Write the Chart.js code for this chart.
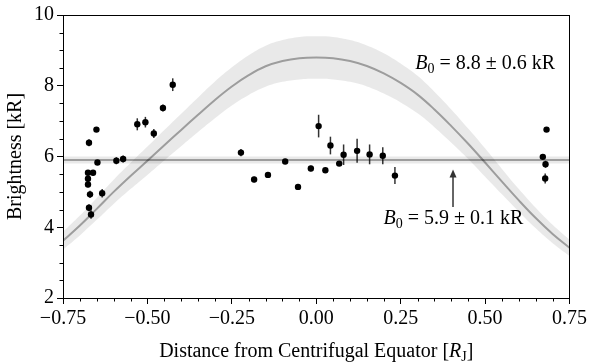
<!DOCTYPE html>
<html>
<head>
<meta charset="utf-8">
<script src="https://cdn.jsdelivr.net/npm/chart.js@4"></script>
<style>
  html, body { margin: 0; padding: 0; background: #fff; }
  #wrap { width: 590px; height: 362px; }
</style>
</head>
<body>
<div id="wrap"><canvas id="c" width="590" height="362"></canvas></div>
<script>
// ===== Datos =====
// Observaciones (distancia, brillo, error)
const obsX = [-0.676, -0.661, -0.676, -0.676, -0.670, -0.673, -0.667, -0.673, -0.651, -0.648,
              -0.634, -0.592, -0.572, -0.530, -0.506, -0.481, -0.454, -0.425, -0.223, -0.184,
              -0.143, -0.092, -0.054, -0.016, 0.007, 0.027, 0.042, 0.068, 0.081, 0.121,
              0.158, 0.197, 0.233, 0.671, 0.679, 0.678, 0.682];
const obsY = [5.54, 5.54, 5.37, 5.21, 4.93, 4.55, 4.36, 6.39, 6.76, 5.83,
              4.96, 5.88, 5.93, 6.91, 6.97, 6.65, 7.37, 8.03, 6.11, 5.35,
              5.48, 5.86, 5.14, 5.66, 6.86, 5.61, 6.31, 5.80, 6.05, 6.16,
              6.06, 6.02, 5.46, 5.99, 5.78, 5.38, 6.76];
const obsErr = [0.08, 0.08, 0.08, 0.08, 0.10, 0.10, 0.12, 0.10, 0.06, 0.06,
                0.12, 0.10, 0.10, 0.17, 0.15, 0.13, 0.10, 0.18, 0.10, 0.08,
                0.08, 0.06, 0.06, 0.08, 0.32, 0.06, 0.25, 0.07, 0.29, 0.34,
                0.28, 0.24, 0.24, 0.06, 0.10, 0.14, 0.06];

// Modelo B0 = 8.8 ± 0.6 kR (curva y banda)
const curveX = [-0.75, -0.70, -0.65, -0.60, -0.55, -0.50, -0.45, -0.40, -0.35, -0.30, -0.25,
                -0.20, -0.15, -0.10, -0.05, 0.00, 0.05, 0.10, 0.15, 0.20, 0.25,
                0.30, 0.35, 0.40, 0.45, 0.50, 0.55, 0.60, 0.65, 0.70, 0.75];
const curveMid = [3.62, 4.05, 4.52, 5.00, 5.45, 5.88, 6.32, 6.75, 7.18, 7.60, 7.98,
                  8.30, 8.55, 8.70, 8.78, 8.80, 8.78, 8.70, 8.56, 8.35, 8.08,
                  7.75, 7.33, 6.86, 6.36, 5.83, 5.29, 4.76, 4.26, 3.81, 3.42];
const curveHi = [3.87, 4.33, 4.83, 5.34, 5.82, 6.28, 6.75, 7.21, 7.67, 8.12, 8.52,
                 8.86, 9.13, 9.29, 9.38, 9.40, 9.38, 9.29, 9.14, 8.92, 8.63,
                 8.28, 7.83, 7.33, 6.79, 6.23, 5.65, 5.08, 4.55, 4.07, 3.65];
const curveLo = [3.37, 3.77, 4.21, 4.66, 5.08, 5.48, 5.89, 6.29, 6.69, 7.08, 7.44,
                 7.74, 7.97, 8.11, 8.18, 8.20, 8.18, 8.11, 7.98, 7.78, 7.53,
                 7.22, 6.83, 6.39, 5.93, 5.43, 4.93, 4.44, 3.97, 3.55, 3.19];

// Modelo constante B0 = 5.9 ± 0.1 kR
const flatX = [-0.75, 0.75];
const flatMid = [5.9, 5.9];
const flatHi = [6.0, 6.0];
const flatLo = [5.8, 5.8];

// Ejes
const xTicks = [-0.75, -0.50, -0.25, 0.00, 0.25, 0.50, 0.75];
const yTicks = [2, 4, 6, 8, 10];

// Anotaciones (posición en datos)
const label1 = { x: 0.293, y: 8.48, value: '8.8', err: '0.6' };
const label2 = { x: 0.199, y: 4.08, value: '5.9', err: '0.1' };
const arrow = { x: 0.405, from: 4.57, to: 5.63 };

const FONT = '"Liberation Serif", "Times New Roman", serif';
const BAND = 'rgba(0,0,0,0.085)';
const LINE = 'rgba(0,0,0,0.33)';

const pts = (xs, ys) => xs.map((x, i) => ({ x, y: ys[i] }));

// ===== Plugins =====
const errorBars = {
  id: 'errorBars',
  beforeDatasetDraw(chart, args) {
    if (args.index !== chart.data.datasets.length - 1) return;
    const { ctx, scales: { x, y } } = chart;
    ctx.save();
    ctx.strokeStyle = '#333';
    ctx.lineWidth = 1.5;
    obsX.forEach((v, i) => {
      const px = x.getPixelForValue(v);
      ctx.beginPath();
      ctx.moveTo(px, y.getPixelForValue(obsY[i] - obsErr[i]));
      ctx.lineTo(px, y.getPixelForValue(obsY[i] + obsErr[i]));
      ctx.stroke();
    });
    ctx.restore();
  }
};

// texto con partes en cursiva / subíndice
function drawRich(ctx, px, py, parts, align) {
  ctx.textBaseline = 'alphabetic';
  ctx.textAlign = 'left';
  ctx.fillStyle = '#000';
  const fontOf = (p) => (p.it ? 'italic ' : '') + (p.sub ? 14 : 20) + 'px ' + FONT;
  let w = 0;
  parts.forEach(p => { ctx.font = fontOf(p); w += ctx.measureText(p.t).width; });
  let cx = align === 'center' ? px - w / 2 : px;
  parts.forEach(p => {
    ctx.font = fontOf(p);
    ctx.fillText(p.t, cx, py + (p.sub ? 4 : 0));
    cx += ctx.measureText(p.t).width;
  });
}

const b0Parts = (value, err) => [
  { t: 'B', it: true }, { t: '0', sub: true }, { t: ' = ' + value + ' \u00b1 ' + err + ' kR' }
];

const decorations = {
  id: 'decorations',
  afterDraw(chart) {
    const { ctx, chartArea: a, scales: { x, y } } = chart;
    ctx.save();
    // caja del gráfico
    ctx.strokeStyle = '#000';
    ctx.lineWidth = 1;
    ctx.strokeRect(Math.round(a.left) + 0.5, Math.round(a.top) + 0.5,
                   Math.round(a.right - a.left) - 1, Math.round(a.bottom - a.top));
    // ticks menores
    ctx.beginPath();
    for (let k = -15; k <= 15; k++) {
      if (k % 5 === 0) continue;
      const px = Math.round(x.getPixelForValue(k * 0.05)) + 0.5;
      ctx.moveTo(px, a.bottom);
      ctx.lineTo(px, a.bottom + 3.5);
    }
    for (let k = 4; k <= 20; k++) {
      if (k % 4 === 0) continue;
      const py = Math.round(y.getPixelForValue(k * 0.5)) + 0.5;
      ctx.moveTo(a.left, py);
      ctx.lineTo(a.left - 3.5, py);
    }
    ctx.stroke();

    // flecha
    const ax = x.getPixelForValue(arrow.x);
    const ay0 = y.getPixelForValue(arrow.from);
    const ay1 = y.getPixelForValue(arrow.to);
    ctx.strokeStyle = '#333';
    ctx.fillStyle = '#333';
    ctx.lineWidth = 1.5;
    ctx.beginPath();
    ctx.moveTo(ax, ay0);
    ctx.lineTo(ax, ay1 + 6);
    ctx.stroke();
    ctx.beginPath();
    ctx.moveTo(ax, ay1);
    ctx.lineTo(ax - 3.5, ay1 + 8);
    ctx.lineTo(ax + 3.5, ay1 + 8);
    ctx.closePath();
    ctx.fill();

    // textos
    drawRich(ctx, x.getPixelForValue(label1.x), y.getPixelForValue(label1.y), b0Parts(label1.value, label1.err));
    drawRich(ctx, x.getPixelForValue(label2.x), y.getPixelForValue(label2.y), b0Parts(label2.value, label2.err));

    // título del eje x
    drawRich(ctx, (a.left + a.right) / 2, 357, [
      { t: 'Distance from Centrifugal Equator [' }, { t: 'R', it: true }, { t: 'J', sub: true }, { t: ']' }
    ], 'center');
    ctx.restore();
  }
};

// ===== Chart =====
Chart.defaults.font.family = FONT;
Chart.defaults.font.size = 20;
Chart.defaults.color = '#000';

const lineDs = (data, extra) => Object.assign({
  data, showLine: true, pointRadius: 0, borderWidth: 0, fill: false, tension: 0.4
}, extra);

new Chart(document.getElementById('c').getContext('2d'), {
  type: 'scatter',
  data: {
    datasets: [
      lineDs(pts(curveX, curveHi), { backgroundColor: BAND, fill: '+1' }),
      lineDs(pts(curveX, curveLo), {}),
      lineDs(pts(flatX, flatHi), { backgroundColor: BAND, fill: '+1' }),
      lineDs(pts(flatX, flatLo), {}),
      lineDs(pts(curveX, curveMid), { borderColor: LINE, borderWidth: 2 }),
      lineDs(pts(flatX, flatMid), { borderColor: LINE, borderWidth: 2 }),
      {
        data: pts(obsX, obsY),
        backgroundColor: '#000', borderColor: '#000',
        pointRadius: 3.2, borderWidth: 0, showLine: false
      }
    ]
  },
  options: {
    responsive: false,
    animation: false,
    layout: { padding: { top: 8, right: 18, left: 0, bottom: 0 } },
    plugins: { legend: { display: false }, tooltip: { enabled: false } },
    scales: {
      x: {
        type: 'linear', min: -0.75, max: 0.75,
        afterFit: (s) => { s.height = 64; },
        afterBuildTicks: (s) => { s.ticks = xTicks.map(v => ({ value: v })); },
        ticks: { padding: 3, maxRotation: 0, callback: (v) => Number(v).toFixed(2).replace('-', '\u2212') },
        grid: { display: true, drawOnChartArea: false, tickLength: 6, tickColor: '#000' },
        border: { display: true, color: '#000' },
        title: { display: false }
      },
      y: {
        type: 'linear', min: 2, max: 10,
        afterFit: (s) => { s.width = 63; },
        afterBuildTicks: (s) => { s.ticks = yTicks.map(v => ({ value: v })); },
        ticks: { padding: 3, callback: (v) => String(v) },
        grid: { display: true, drawOnChartArea: false, tickLength: 6, tickColor: '#000' },
        border: { display: true, color: '#000' },
        title: { display: true, text: 'Brightness [kR]', padding: { top: 4, bottom: 0 } }
      }
    }
  },
  plugins: [errorBars, decorations]
});
</script>
</body>
</html>
